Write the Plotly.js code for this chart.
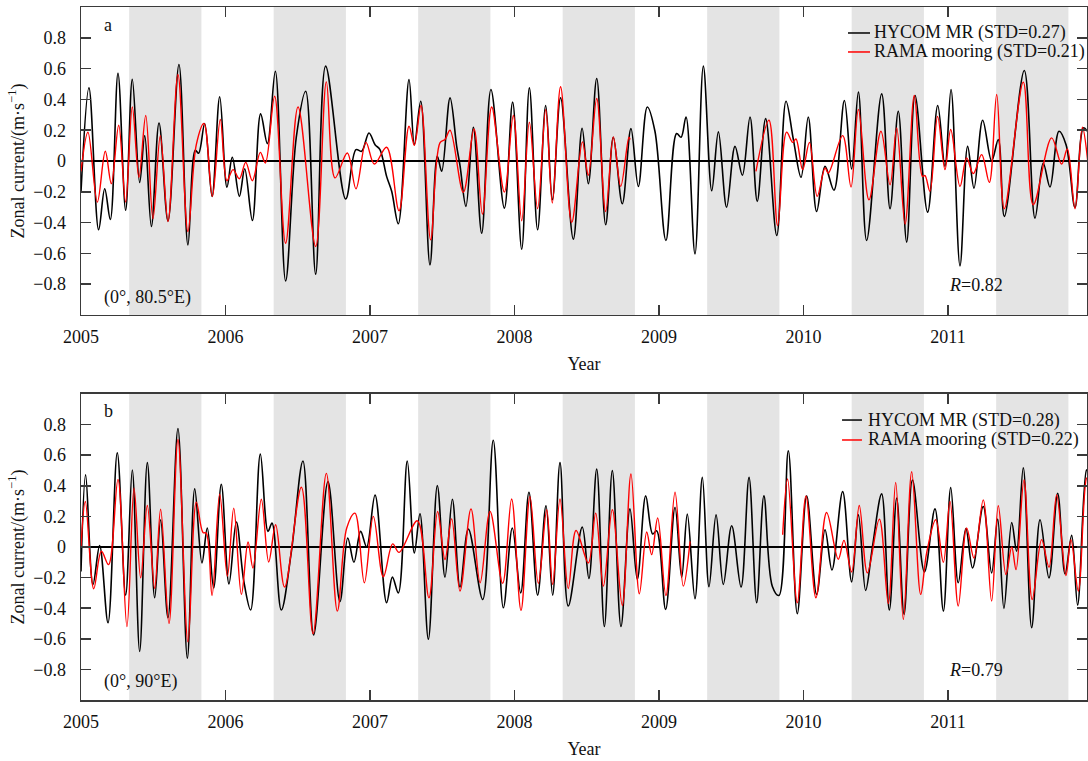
<!DOCTYPE html>
<html><head><meta charset="utf-8">
<script src="https://cdn.plot.ly/plotly-3.0.1.min.js"></script>
<style>html,body{margin:0;padding:0;background:#fff}#chart{width:1088px;height:761px}</style>
</head><body><div id="chart"></div>
<script>
// ---------- data (decimal years, m/s) ----------
const yearTicks = [2005, 2006, 2007, 2008, 2009, 2010, 2011];
const yearLabels = ['2005', '2006', '2007', '2008', '2009', '2010', '2011'];
const yTickVals = [-0.8, -0.6, -0.4, -0.2, 0, 0.2, 0.4, 0.6, 0.8];
const yTickText = ['\u22120.8', '\u22120.6', '\u22120.4', '\u22120.2', '0', '0.2', '0.4', '0.6', '0.8'];
const monsoonMonths = [5, 10]; // May-October shading

// Panel a (0°, 80.5°E)
const aHycomT = [2005.000,2005.055,2005.122,2005.164,2005.203,2005.256,2005.309,2005.355,2005.406,2005.441,2005.487,2005.540,2005.602,2005.678,2005.740,2005.791,2005.814,2005.856,2005.907,2005.960,
2006.010,2006.047,2006.096,2006.133,2006.186,2006.243,2006.290,2006.345,2006.416,2006.490,2006.555,2006.624,2006.693,2006.832,2006.903,2006.942,2006.993,
2007.035,2007.069,2007.115,2007.150,2007.196,2007.270,2007.307,2007.351,2007.415,2007.466,2007.496,2007.554,2007.600,2007.623,2007.664,2007.715,2007.773,2007.837,2007.930,2007.987,
2008.050,2008.103,2008.160,2008.216,2008.262,2008.319,2008.407,2008.468,2008.511,2008.569,2008.631,2008.684,2008.746,2008.806,2008.857,2008.919,2008.972,
2009.048,2009.122,2009.153,2009.187,2009.249,2009.307,2009.365,2009.411,2009.468,2009.526,2009.577,2009.630,2009.680,2009.738,2009.815,2009.879,2009.930,2009.983,
2010.033,2010.091,2010.149,2010.211,2010.283,2010.333,2010.380,2010.437,2010.541,2010.599,2010.656,2010.714,2010.772,2010.859,2010.929,2010.979,
2011.021,2011.083,2011.136,2011.180,2011.240,2011.302,2011.348,2011.390,2011.528,2011.602,2011.659,2011.706,2011.768,2011.817,2011.879,2011.937,2011.967];
const aHycomV = [-0.20,0.475,-0.447,-0.18,-0.38,0.57,-0.32,0.53,-0.14,0.165,-0.425,0.247,-0.39,0.627,-0.545,0.07,0.05,0.243,-0.23,0.417,
-0.17,0.024,-0.23,-0.05,-0.386,0.306,0.113,0.583,-0.779,0.155,0.453,-0.735,0.616,-0.247,0.074,0.063,0.182,
0.106,0.074,-0.10,-0.197,-0.408,0.529,0.106,0.388,-0.675,0.03,-0.067,0.41,0.095,-0.03,-0.295,0.219,-0.469,0.464,-0.306,0.382,
-0.573,0.475,-0.447,0.36,-0.252,0.41,-0.508,0.213,-0.148,0.536,-0.414,0.154,-0.278,0.21,-0.165,0.351,0.193,
-0.516,0.178,0.154,0.286,-0.603,0.616,-0.193,0.189,-0.30,0.095,-0.093,0.286,-0.262,0.275,-0.484,0.388,0.139,-0.106,
0.286,-0.328,-0.035,-0.19,0.393,-0.052,0.447,-0.516,0.436,-0.31,0.323,-0.527,0.425,-0.332,0.36,-0.035,
0.464,-0.681,0.095,-0.176,0.265,0.0,0.139,-0.36,0.588,-0.371,-0.013,-0.169,0.193,0.106,-0.302,0.215,0.19];

const aRamaT = [2005.000,2005.048,2005.113,2005.168,2005.210,2005.261,2005.309,2005.355,2005.401,2005.448,2005.498,2005.549,2005.602,2005.671,2005.740,2005.798,2005.851,2005.909,2005.964,
2006.010,2006.052,2006.096,2006.140,2006.186,2006.241,2006.276,2006.340,2006.416,2006.502,2006.624,2006.698,2006.758,2006.843,2006.903,2006.972,
2007.030,2007.115,2007.201,2007.270,2007.307,2007.353,2007.420,2007.484,2007.519,2007.554,2007.646,2007.720,2007.778,2007.842,2007.930,2007.992,
2008.050,2008.103,2008.160,2008.216,2008.262,2008.319,2008.396,2008.470,2008.511,2008.569,2008.631,2008.684,2008.735,2008.792,2008.800,
2009.200,
2009.671,2009.761,2009.821,2009.883,2009.925,2009.948,2009.994,
2010.041,2010.095,2010.149,2010.172,2010.271,2010.329,2010.380,2010.453,2010.536,2010.599,2010.645,2010.703,2010.767,2010.823,2010.841,2010.875,2010.928,2010.979,
2011.019,2011.083,2011.129,2011.175,2011.233,2011.286,2011.337,2011.390,2011.521,2011.590,2011.717,2011.786,2011.826,2011.879,2011.930,2011.967];
const aRamaV = [-0.067,0.187,-0.267,0.063,-0.147,0.232,-0.267,0.351,-0.106,0.295,-0.375,0.165,-0.393,0.562,-0.458,0.106,0.243,-0.23,0.269,
-0.128,-0.056,-0.115,-0.009,-0.128,0.056,-0.013,0.42,-0.534,0.351,-0.555,0.514,-0.11,0.052,-0.18,0.121,
-0.02,0.089,-0.323,0.226,0.102,0.36,-0.512,0.117,0.14,0.2,-0.204,0.208,-0.345,0.351,-0.202,0.295,
-0.388,0.252,-0.31,0.334,-0.273,0.482,-0.399,0.124,-0.093,0.406,-0.328,0.156,-0.165,0.154,0.14,
null,
-0.067,0.265,-0.42,0.187,0.121,0.143,-0.056,
0.121,-0.23,-0.046,-0.078,0.165,-0.169,0.334,-0.252,0.193,-0.154,0.215,-0.41,0.425,-0.1,-0.095,-0.197,0.29,-0.056,
0.204,-0.165,0.02,-0.082,0.041,-0.139,0.432,-0.31,0.512,-0.284,0.15,-0.02,0.078,-0.31,0.219,0.0];

// Panel b (0°, 90°E)
const bHycomT = [2005.000,2005.032,2005.083,2005.129,2005.187,2005.251,2005.309,2005.355,2005.406,2005.459,2005.510,2005.551,2005.602,2005.671,2005.736,2005.787,2005.837,2005.874,2005.918,2005.971,
2006.024,2006.075,2006.126,2006.174,2006.241,2006.294,2006.322,2006.386,2006.456,2006.536,2006.610,2006.709,2006.792,2006.846,2006.889,2006.935,2006.977,
2007.035,2007.115,2007.155,2007.196,2007.258,2007.307,2007.346,2007.404,2007.466,2007.519,2007.570,2007.623,2007.681,2007.780,2007.853,2007.923,2007.985,
2008.043,2008.100,2008.160,2008.218,2008.264,2008.315,2008.372,2008.469,2008.515,2008.569,2008.622,2008.677,2008.737,2008.799,2008.850,2008.908,2008.956,2008.984,
2009.046,2009.111,2009.157,2009.196,2009.249,2009.300,2009.346,2009.395,2009.445,2009.503,2009.568,2009.623,2009.676,2009.726,2009.784,2009.830,2009.895,2009.957,
2010.022,2010.091,2010.149,2010.197,2010.271,2010.333,2010.380,2010.430,2010.476,2010.541,2010.594,2010.645,2010.696,2010.754,2010.837,2010.910,2010.968,
2011.019,2011.071,2011.124,2011.170,2011.244,2011.302,2011.344,2011.387,2011.441,2011.475,2011.521,2011.579,2011.637,2011.699,2011.759,2011.810,2011.856,2011.897,2011.959,2011.967];
const bHycomV = [-0.16,0.471,-0.245,0.009,-0.495,0.616,-0.315,0.503,-0.683,0.551,-0.332,0.178,-0.462,0.774,-0.727,0.38,-0.104,0.124,-0.267,0.41,
-0.241,0.163,-0.22,-0.412,0.607,0.102,0.156,-0.412,-0.03,0.562,-0.575,0.427,-0.358,0.059,-0.1,0.102,0.0,
0.34,-0.364,-0.197,-0.3,0.562,-0.039,0.217,-0.603,0.401,-0.197,0.312,-0.262,0.117,-0.343,0.698,-0.397,0.124,
-0.3,0.358,-0.315,0.269,-0.315,0.551,-0.386,0.13,-0.206,0.51,-0.52,0.499,-0.52,0.249,-0.212,0.334,0.085,0.106,
-0.408,0.26,-0.197,0.215,-0.338,0.455,-0.26,0.21,-0.245,0.139,-0.262,0.455,-0.364,0.334,-0.256,-0.317,0.629,-0.436,
0.334,-0.31,0.113,-0.15,0.362,-0.228,0.21,-0.284,-0.007,0.347,-0.412,0.319,-0.44,0.438,-0.163,0.249,-0.419,
0.388,-0.234,0.12,-0.137,0.265,-0.169,0.182,-0.401,0.16,-0.028,0.518,-0.527,0.178,-0.202,0.351,-0.176,0.076,-0.38,0.503,0.50];

const bRamaT = [2005.000,2005.030,2005.088,2005.141,2005.191,2005.256,2005.318,2005.367,2005.413,2005.459,2005.510,2005.551,2005.609,2005.671,2005.740,2005.798,2005.844,2005.867,2005.907,2005.960,
2006.013,2006.057,2006.110,2006.156,2006.190,2006.248,2006.299,2006.347,2006.409,2006.525,2006.606,2006.698,2006.774,2006.839,2006.896,2006.961,
2007.023,2007.092,2007.157,2007.201,2007.328,2007.408,2007.468,2007.519,2007.565,2007.623,2007.699,2007.762,2007.831,2007.918,2007.980,
2008.045,2008.107,2008.165,2008.223,2008.264,2008.315,2008.372,2008.426,2008.511,2008.562,2008.615,2008.677,2008.746,2008.806,2008.864,2008.915,2008.949,2008.991,
2009.048,2009.111,2009.168,2009.215,
2009.500,
2009.856,2009.890,2009.957,
2010.017,2010.086,2010.160,2010.241,2010.280,2010.333,2010.386,2010.442,2010.525,2010.587,2010.638,2010.691,2010.749,2010.811,2010.852,2010.915,2010.968,
2011.014,2011.071,2011.129,2011.180,2011.244,2011.302,2011.348,2011.401,2011.441,2011.471,2011.526,2011.583,2011.648,2011.699,2011.752,2011.816,2011.851,2011.902,2011.959,2011.967];
const bRamaV = [0.0,0.297,-0.273,-0.028,-0.115,0.442,-0.52,0.384,-0.202,0.271,-0.271,0.247,-0.501,0.702,-0.62,0.293,0.095,0.09,-0.317,0.345,
-0.191,0.254,-0.31,0.033,-0.137,0.312,-0.098,0.145,-0.262,0.39,-0.566,0.481,-0.419,0.124,0.221,-0.234,
0.2,-0.195,0.02,-0.035,0.171,-0.332,0.232,-0.082,0.184,-0.288,0.249,-0.234,0.232,-0.238,0.314,
-0.414,0.33,-0.238,0.243,-0.245,0.314,-0.271,0.108,-0.104,0.221,-0.256,0.243,-0.382,0.477,-0.306,0.098,-0.05,0.189,
-0.317,0.358,-0.256,0.037,
null,
0.08,0.444,-0.364,
0.334,-0.332,0.225,-0.08,0.043,-0.163,0.271,-0.169,0.182,-0.369,0.421,-0.473,0.492,-0.31,-0.04,0.178,-0.1,
0.297,-0.386,0.124,-0.072,0.308,-0.354,0.269,-0.18,0.0,-0.148,0.438,-0.343,0.048,-0.132,0.34,-0.186,0.048,-0.288,0.449,0.45];

const seriesNames = {
  a: ['HYCOM MR (STD=0.27)', 'RAMA mooring (STD=0.21)'],
  b: ['HYCOM MR (STD=0.28)', 'RAMA mooring (STD=0.22)']
};
const seriesColors = ['#000000', '#ff0000'];
const panelLabels = {a: ['a', '(0°, 80.5°E)', '<i>R</i>=0.82'], b: ['b', '(0°, 90°E)', '<i>R</i>=0.79']};

// ---------- styling ----------
const FONT = '"Liberation Serif", "Times New Roman", Times, serif';
const FS = 18;
const AX = '#3a3a3a';
const TXT = '#111';

function lineTrace(x, y, color, width, name, xa, ya) {
  return {x: x, y: y, type: 'scatter', mode: 'lines', name: name, showlegend: false,
    line: {color: color, width: width, shape: 'spline', smoothing: 1},
    connectgaps: false, xaxis: xa, yaxis: ya, hoverinfo: 'skip'};
}

const traces = [
  lineTrace(aHycomT, aHycomV, seriesColors[0], 1.6, seriesNames.a[0], 'x', 'y'),
  lineTrace(aRamaT, aRamaV, seriesColors[1], 1.4, seriesNames.a[1], 'x', 'y'),
  lineTrace(bHycomT, bHycomV, seriesColors[0], 1.6, seriesNames.b[0], 'x2', 'y2'),
  lineTrace(bRamaT, bRamaV, seriesColors[1], 1.4, seriesNames.b[1], 'x2', 'y2')
];

const shapes = [];
yearTicks.forEach(function (yr) {
  const x0 = yr + (monsoonMonths[0] - 1) / 12;
  const x1 = yr + monsoonMonths[1] / 12;
  ['', '2'].forEach(function (s) {
    shapes.push({type: 'rect', layer: 'below', xref: 'x' + s, yref: 'y' + s + ' domain',
      x0: x0, x1: x1, y0: 0, y1: 1, fillcolor: '#e4e4e4', line: {width: 0}});
  });
});

function xAxis(anchor) {
  return {anchor: anchor, domain: [0, 1], range: [2005, 2011.962], tickmode: 'array',
    tickvals: yearTicks, ticktext: yearLabels, ticks: 'inside', ticklen: 10, tickwidth: 1.5,
    tickcolor: AX, showline: true, linecolor: AX, linewidth: 1.5, mirror: 'allticks',
    showgrid: false, zeroline: false, automargin: false, ticklabelstandoff: 5,
    tickfont: {family: FONT, size: FS, color: TXT},
    title: {text: 'Year', font: {family: FONT, size: FS, color: TXT}, standoff: 11}};
}
function yAxis(anchor, domain) {
  return {anchor: anchor, domain: domain, range: [-1, 1], tickmode: 'array',
    tickvals: yTickVals, ticktext: yTickText, ticks: 'inside', ticklen: 10, tickwidth: 1.5,
    tickcolor: AX, showline: true, linecolor: AX, linewidth: 1.5, mirror: 'allticks',
    showgrid: false, zeroline: true, zerolinecolor: '#000', zerolinewidth: 1.5,
    automargin: false, ticklabelstandoff: 10,
    tickfont: {family: FONT, size: FS, color: TXT},
    title: {text: 'Zonal current/(m\u00b7s<sup>\u22121</sup>)', font: {family: FONT, size: FS, color: TXT}, standoff: 4}};
}

function panelAnn(lbl, xa, ya, topY, botY, rY) {
  return [
    {text: lbl[0], xref: xa + ' domain', yref: ya + ' domain', x: 0.027, y: topY, xanchor: 'center', yanchor: 'middle', showarrow: false, font: {family: FONT, size: FS, color: TXT}},
    {text: lbl[1], xref: xa + ' domain', yref: ya + ' domain', x: 0.021, y: botY, xanchor: 'left', yanchor: 'middle', showarrow: false, font: {family: FONT, size: FS, color: TXT}},
    {text: lbl[2], xref: xa + ' domain', yref: ya + ' domain', x: 0.861, y: rY, xanchor: 'left', yanchor: 'middle', showarrow: false, font: {family: FONT, size: FS, color: TXT}}
  ];
}

// hand-drawn legend (tight line spacing as in the original)
const legendAnn = [];
function addLegend(names, lx0, lx1, tx, rowsY) {
  names.forEach(function (nm, i) {
    shapes.push({type: 'line', xref: 'paper', yref: 'paper', x0: lx0, x1: lx1, y0: rowsY[i], y1: rowsY[i],
      line: {color: seriesColors[i], width: 1.5}});
    legendAnn.push({text: nm, xref: 'paper', yref: 'paper', x: tx, y: rowsY[i], xanchor: 'left', yanchor: 'middle',
      showarrow: false, font: {family: FONT, size: FS, color: TXT}});
  });
}
addLegend(seriesNames.a, 0.7624, 0.7843, 0.7863, [0.9625, 0.9351]);
addLegend(seriesNames.b, 0.7565, 0.7763, 0.7803, [0.4040, 0.3752]);

const layout = {
  width: 1088, height: 761, paper_bgcolor: '#fff', plot_bgcolor: '#fff',
  margin: {l: 81, r: 1, t: 7, b: 61}, font: {family: FONT, size: FS, color: TXT},
  showlegend: false,
  xaxis: xAxis('y'), yaxis: yAxis('x', [0.5556, 1]),
  xaxis2: xAxis('y2'), yaxis2: yAxis('x2', [0, 0.4416]),
  shapes: shapes,
  annotations: panelAnn(panelLabels.a, 'x', 'y', 0.942, 0.058, 0.097)
    .concat(panelAnn(panelLabels.b, 'x2', 'y2', 0.944, 0.059, 0.098))
    .concat(legendAnn)
};

Plotly.newPlot('chart', traces, layout, {staticPlot: true, displayModeBar: false});
</script></body></html>
